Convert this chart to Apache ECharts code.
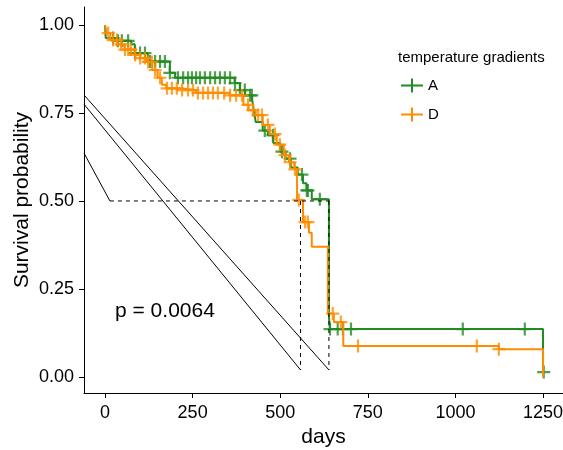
<!DOCTYPE html>
<html>
<head>
<meta charset="utf-8">
<script src="https://cdn.jsdelivr.net/npm/echarts@6/dist/echarts.min.js"></script>
<style>
  html, body { margin: 0; padding: 0; background: #fff; }
  #chart { width: 563px; height: 450px; }
</style>
</head>
<body>
<div id="chart"></div>
<script>
// group A (green) - step times and survival after each step
var aTimes = [0, 2, 30, 75, 85, 122, 185, 200, 370, 385, 400, 420, 425, 430, 450, 465, 480, 500, 515, 530, 550, 565, 575, 590, 639, 642, 1250];
var aSurv = [1, 0.963, 0.955, 0.945, 0.92, 0.896, 0.864, 0.85, 0.835, 0.815, 0.80, 0.787, 0.755, 0.724, 0.70, 0.687, 0.665, 0.64, 0.62, 0.595, 0.575, 0.55, 0.53, 0.505, 0.17, 0.136, 0.014];
var aCensor = [23, 37, 48, 66, 86, 100, 114, 128, 143, 157, 171, 185, 208, 223, 237, 248, 260, 271, 285, 300, 314, 328, 342, 357, 371, 385, 399, 414, 419, 456, 479, 505, 528, 562, 576, 579, 613, 642, 664, 679, 702, 1021, 1198, 1252];

// group D (orange)
var dTimes = [0, 5, 15, 35, 55, 85, 100, 120, 135, 150, 162, 175, 215, 260, 355, 395, 410, 430, 450, 470, 490, 510, 525, 540, 548, 565, 582, 590, 636, 653, 680, 1124, 1250];
var dSurv = [1, 0.977, 0.957, 0.945, 0.93, 0.915, 0.906, 0.895, 0.872, 0.85, 0.83, 0.82, 0.815, 0.807, 0.80, 0.773, 0.758, 0.744, 0.716, 0.69, 0.66, 0.63, 0.61, 0.59, 0.503, 0.44, 0.41, 0.37, 0.18, 0.156, 0.088, 0.079, 0];
var dCensor = [9, 23, 34, 46, 57, 66, 74, 86, 100, 114, 123, 134, 143, 157, 177, 191, 205, 220, 237, 251, 265, 280, 294, 308, 322, 340, 357, 374, 391, 408, 422, 437, 448, 465, 485, 499, 514, 528, 542, 553, 571, 579, 650, 673, 722, 1061, 1124];

var xTicks = [0, 250, 500, 750, 1000, 1250];
var yTicks = [0, 0.25, 0.5, 0.75, 1];

// median / reference segments [[x1, y1], [x2, y2]]
var solidSegs = [
  [[-60, 0.636], [14, 0.5]],
  [[-60, 0.801], [639, 0.02]],
  [[-60, 0.775], [558, 0.02]]
];
var dashedSegs = [
  [[14, 0.5], [639, 0.5]],
  [[558, 0.5], [558, 0.02]],
  [[639, 0.5], [639, 0.02]]
];

var pText = 'p = 0.0064';

function stepPoints(times, surv) {
  var pts = [[times[0], surv[0]]];
  for (var i = 1; i < times.length; i++) {
    pts.push([times[i], surv[i - 1]]);
    pts.push([times[i], surv[i]]);
  }
  return pts;
}

function censorPoints(times, surv, cens) {
  return cens.map(function (c) {
    var s = surv[0];
    for (var i = 0; i < times.length; i++) {
      if (times[i] <= c) s = surv[i];
    }
    return [c, s];
  });
}

var plusPath = 'path://M0,5.4 L13,5.4 L13,7.6 L0,7.6 Z M5.4,0 L7.6,0 L7.6,13 L5.4,13 Z';
var legendIcon = 'path://M0,6 L22,6 L22,8 L0,8 Z M10,0 L12,0 L12,14 L10,14 Z';
var green = '#228B22';
var orange = '#FF8C00';

var series = [
  {
    name: 'A', type: 'line', data: stepPoints(aTimes, aSurv),
    showSymbol: false, symbol: 'none', color: green,
    lineStyle: { color: green, width: 2 }, z: 2
  },
  {
    name: 'A', type: 'scatter', data: censorPoints(aTimes, aSurv, aCensor),
    symbol: plusPath, symbolSize: 13, itemStyle: { color: green }, z: 2
  },
  {
    name: 'D', type: 'line', data: stepPoints(dTimes, dSurv),
    showSymbol: false, symbol: 'none', color: orange,
    lineStyle: { color: orange, width: 2 }, z: 3
  },
  {
    name: 'D', type: 'scatter', data: censorPoints(dTimes, dSurv, dCensor),
    symbol: plusPath, symbolSize: 13, itemStyle: { color: orange }, z: 3
  }
];

solidSegs.forEach(function (seg) {
  series.push({
    type: 'line', data: seg, symbol: 'none', silent: true, z: 5,
    lineStyle: { color: '#000', width: 1 }
  });
});
dashedSegs.forEach(function (seg) {
  series.push({
    type: 'line', data: seg, symbol: 'none', silent: true, z: 5,
    lineStyle: { color: '#000', width: 1, type: [4, 4] }
  });
});

var chart = echarts.init(document.getElementById('chart'));
chart.setOption({
  animation: false,
  backgroundColor: '#fff',
  textStyle: { fontFamily: 'Liberation Sans, Arial, sans-serif' },
  title: {
    text: 'temperature gradients',
    left: 393, top: 45,
    textStyle: { fontSize: 15, fontWeight: 'normal', color: '#000' }
  },
  legend: {
    orient: 'vertical',
    left: 396, top: 73,
    itemWidth: 22, itemHeight: 14, itemGap: 14,
    textStyle: { fontSize: 15, color: '#000' },
    data: [{ name: 'A', icon: legendIcon }, { name: 'D', icon: legendIcon }]
  },
  grid: { left: 84, right: 0, top: 7, bottom: 57, outerBoundsMode: 'none', containLabel: false },
  xAxis: {
    type: 'value', min: -60, max: 1307,
    name: 'days', nameLocation: 'middle', nameGap: 33,
    nameTextStyle: { fontSize: 21, color: '#000' },
    axisLine: { show: true, onZero: false, lineStyle: { color: '#000', width: 1 } },
    axisTick: { show: true, length: 5, customValues: xTicks, lineStyle: { color: '#000' } },
    axisLabel: {
      customValues: xTicks, fontSize: 18, color: '#000', margin: 11,
      formatter: function (v) { return String(v); }
    },
    splitLine: { show: false }
  },
  yAxis: {
    type: 'value', min: -0.0455, max: 1.051,
    name: 'Survival probability', nameLocation: 'middle', nameGap: 51,
    nameMoveOverlap: false,
    nameTextStyle: { fontSize: 21, color: '#000' },
    axisLine: { show: true, onZero: false, lineStyle: { color: '#000', width: 1 } },
    axisTick: { show: true, length: 5, customValues: yTicks, lineStyle: { color: '#000' } },
    axisLabel: {
      customValues: yTicks, fontSize: 18, color: '#000', margin: 10,
      formatter: function (v) { return v.toFixed(2); }
    },
    splitLine: { show: false }
  },
  graphic: [{
    type: 'text', left: 115, top: 301,
    style: { text: pText, fontSize: 21, fill: '#000', fontFamily: 'Liberation Sans, Arial, sans-serif' }
  }],
  series: series
});
</script>
</body>
</html>
